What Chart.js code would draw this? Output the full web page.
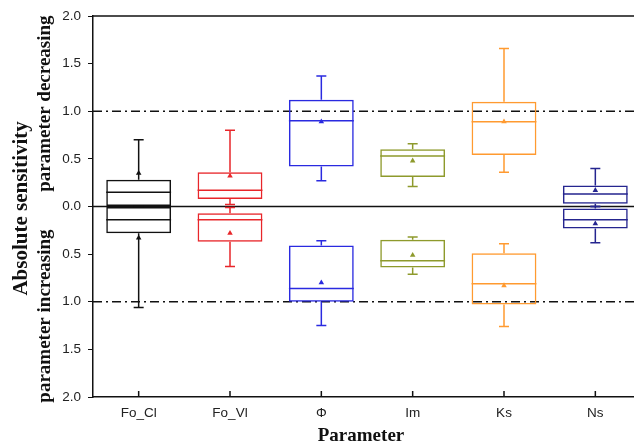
<!DOCTYPE html>
<html>
<head>
<meta charset="utf-8">
<script src="https://cdn.jsdelivr.net/npm/chart.js@4.4.1/dist/chart.umd.min.js"></script>
<style>
  html, body { margin: 0; padding: 0; background: #fff; overflow: hidden; }
  /* the plot frame runs off the right edge of the picture, as in the reference */
  #wrap { width: 645px; height: 445px; }
</style>
</head>
<body>
<div id="wrap"><canvas id="box"></canvas></div>
<script>
// categories and colours
const params = ['Fo_Cl', 'Fo_Vl', 'Φ', 'Im', 'Ks', 'Ns'];
const colors = ['#111111', '#e8262a', '#2a2ae0', '#8e9a2c', '#ff9a30', '#25258f'];

// parameter decreasing (upper half): absolute sensitivity
const decWhiskerLow = [0.00, 0.02, 0.27, 0.21, 0.36, 0.00];
const decQ1         = [0.00, 0.08, 0.42, 0.31, 0.54, 0.03];
const decMedian     = [0.15, 0.17, 0.90, 0.53, 0.89, 0.13];
const decQ3         = [0.28, 0.36, 1.12, 0.60, 1.10, 0.22];
const decWhiskerHigh = [0.70, 0.80, 1.37, 0.66, 1.66, 0.40];
const decMean       = [0.35, 0.32, 0.89, 0.48, 0.89, 0.17];

// parameter increasing (lower half): absolute sensitivity
const incWhiskerLow = [0.00, 0.01, 0.36, 0.32, 0.39, 0.00];
const incQ1         = [0.00, 0.07, 0.41, 0.35, 0.49, 0.02];
const incMedian     = [0.14, 0.14, 0.86, 0.57, 0.81, 0.14];
const incQ3         = [0.28, 0.37, 1.00, 0.64, 1.03, 0.23];
const incWhiskerHigh = [1.06, 0.63, 1.25, 0.71, 1.26, 0.38];
const incMean       = [0.33, 0.28, 0.80, 0.51, 0.83, 0.18];

// y tick labels show absolute values, lower half is plotted as negative
const yMin = -2, yMax = 2, yStep = 0.5;
const refLevels = [1, -1];

const neg = arr => arr.map(v => -v);

// whiskers, caps and medians drawn through the chart scales
const boxExtras = {
  id: 'boxExtras',
  afterDatasetsDraw(chart) {
    const { ctx, scales: { x, y } } = chart;
    const halfBox = x.width / params.length * 0.355;
    const cap = 5;
    ctx.save();
    ctx.lineWidth = 1.5;
    const groups = [
      { lo: decWhiskerLow, q1: decQ1, med: decMedian, q3: decQ3, hi: decWhiskerHigh, s: 1 },
      { lo: incWhiskerLow, q1: incQ1, med: incMedian, q3: incQ3, hi: incWhiskerHigh, s: -1 }
    ];
    params.forEach((p, i) => {
      const cx = x.getPixelForValue(i);
      ctx.strokeStyle = colors[i];
      groups.forEach(g => {
        const yLo = y.getPixelForValue(g.s * g.lo[i]);
        const yQ1 = y.getPixelForValue(g.s * g.q1[i]);
        const yQ3 = y.getPixelForValue(g.s * g.q3[i]);
        const yHi = y.getPixelForValue(g.s * g.hi[i]);
        const yMed = y.getPixelForValue(g.s * g.med[i]);
        ctx.beginPath();
        ctx.moveTo(cx, yQ3); ctx.lineTo(cx, yHi);
        ctx.moveTo(cx - cap, yHi); ctx.lineTo(cx + cap, yHi);
        ctx.moveTo(cx, yQ1); ctx.lineTo(cx, yLo);
        ctx.moveTo(cx - cap, yLo); ctx.lineTo(cx + cap, yLo);
        ctx.moveTo(cx - halfBox, yMed); ctx.lineTo(cx + halfBox, yMed);
        ctx.stroke();
      });
    });
    ctx.restore();
  }
};

// frame, zero line, dash-dot reference lines, inward x ticks, axis titles
const frame = {
  id: 'frame',
  beforeDatasetsDraw(chart) {
    const { ctx, chartArea: a, scales: { y } } = chart;
    ctx.save();
    ctx.strokeStyle = '#111';
    ctx.lineWidth = 1.3;
    ctx.setLineDash([9, 4, 2, 4]);
    refLevels.forEach(v => {
      const py = y.getPixelForValue(v);
      ctx.beginPath(); ctx.moveTo(a.left, py); ctx.lineTo(a.right, py); ctx.stroke();
    });
    ctx.setLineDash([]);
    ctx.lineWidth = 1.5;
    const z = y.getPixelForValue(0);
    ctx.beginPath(); ctx.moveTo(a.left, z); ctx.lineTo(a.right, z); ctx.stroke();
    ctx.restore();
  },
  afterDraw(chart) {
    const { ctx, chartArea: a, scales: { x, y } } = chart;
    ctx.save();
    ctx.strokeStyle = '#111';
    ctx.lineWidth = 1.5;
    ctx.beginPath(); ctx.moveTo(a.left, a.top); ctx.lineTo(a.right, a.top); ctx.stroke();
    params.forEach((p, i) => {
      const cx = x.getPixelForValue(i);
      ctx.beginPath(); ctx.moveTo(cx, a.bottom); ctx.lineTo(cx, a.bottom - 6); ctx.stroke();
    });
    ctx.fillStyle = '#111';
    ctx.textAlign = 'center';
    ctx.textBaseline = 'middle';
    ctx.font = 'bold 19px "Liberation Serif", "Times New Roman", serif';
    ctx.fillText('Parameter', 361, 436);
    const vText = (t, px, py) => {
      ctx.save(); ctx.translate(px, py); ctx.rotate(-Math.PI / 2); ctx.fillText(t, 0, 0); ctx.restore();
    };
    vText('parameter decreasing', 45, y.getPixelForValue(1.08));
    vText('parameter increasing', 45, y.getPixelForValue(-1.15));
    ctx.font = 'bold 21px "Liberation Serif", "Times New Roman", serif';
    vText('Absolute sensitivity', 22, y.getPixelForValue(-0.02));
    ctx.restore();
  }
};

new Chart(document.getElementById('box'), {
  data: {
    labels: params,
    datasets: [
      {
        type: 'bar',
        data: decQ1.map((v, i) => [v, decQ3[i]]),
        borderColor: colors, backgroundColor: 'rgba(0,0,0,0)',
        borderWidth: 1.5, borderSkipped: false,
        barPercentage: 0.71, categoryPercentage: 1, grouped: false
      },
      {
        type: 'bar',
        data: neg(incQ1).map((v, i) => [v, -incQ3[i]]),
        borderColor: colors, backgroundColor: 'rgba(0,0,0,0)',
        borderWidth: 1.5, borderSkipped: false,
        barPercentage: 0.71, categoryPercentage: 1, grouped: false
      },
      {
        type: 'line', data: decMean, showLine: false,
        pointStyle: 'triangle', pointRadius: 3.2,
        pointBackgroundColor: colors, pointBorderColor: colors, pointBorderWidth: 0
      },
      {
        type: 'line', data: neg(incMean), showLine: false,
        pointStyle: 'triangle', pointRadius: 3.2,
        pointBackgroundColor: colors, pointBorderColor: colors, pointBorderWidth: 0
      }
    ]
  },
  options: {
    responsive: true,
    maintainAspectRatio: false,
    animation: false,
    events: [],
    layout: { padding: { top: 16, right: 0, left: 0, bottom: 0 } },
    plugins: { legend: { display: false }, tooltip: { enabled: false } },
    scales: {
      x: {
        offset: true,
        grid: { display: true, drawOnChartArea: false, drawTicks: false },
        border: { display: true, color: '#111', width: 1.5 },
        ticks: { color: '#222', padding: 8, font: { family: '"Liberation Sans", Arial, sans-serif', size: 13.5 } },
        afterFit(s) { s.height = 48; }
      },
      y: {
        min: yMin, max: yMax,
        grid: { drawOnChartArea: false, drawTicks: true, tickLength: 5, color: '#111' },
        border: { display: true, color: '#111', width: 1.5 },
        ticks: {
          stepSize: yStep, color: '#222', padding: 7,
          font: { family: '"Liberation Sans", Arial, sans-serif', size: 13.5 },
          callback: v => Math.abs(v).toFixed(1)
        },
        afterFit(s) { s.width = 93; }
      }
    }
  },
  plugins: [frame, boxExtras]
});
</script>
</body>
</html>
